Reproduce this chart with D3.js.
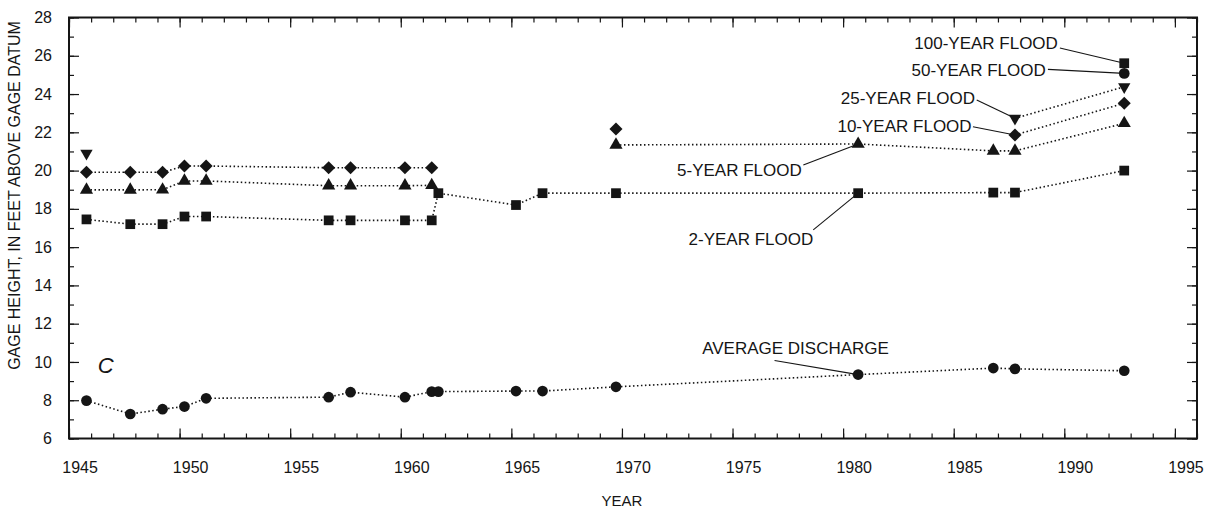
<!DOCTYPE html>
<html><head><meta charset="utf-8">
<script src="https://cdn.jsdelivr.net/npm/d3@7"></script>
<style>
html,body{margin:0;padding:0;background:#fff;}
svg text{font-family:"Liberation Sans",Arial,Helvetica,sans-serif;fill:#151515;}
</style></head><body>
<svg id="chart" width="1212" height="514"></svg>
<script>
// ---------- data ----------
const dischargeYears  = [1945.79,1947.77,1949.23,1950.22,1951.2,1956.74,1957.73,1960.19,1961.4,1961.7,1965.21,1966.41,1969.73,1980.68,1986.79,1987.77,1992.71];
const dischargeValues = [7.98,7.28,7.53,7.67,8.1,8.16,8.42,8.16,8.45,8.45,8.48,8.48,8.7,9.34,9.68,9.64,9.54];

const flood2Years  = [1945.79,1947.77,1949.23,1950.22,1951.2,1956.74,1957.73,1960.19,1961.4,1961.7,1965.21,1966.41,1969.73,1980.68,1986.79,1987.77,1992.71];
const flood2Values = [17.45,17.2,17.2,17.6,17.6,17.4,17.4,17.4,17.4,18.82,18.2,18.82,18.82,18.82,18.85,18.85,20.0];
const flood2Segment = [1,1,1,1,1,1,1,1,1,1,1,1,1,1,1,1,1];

const flood5Years  = [1945.79,1947.77,1949.23,1950.22,1951.2,1956.74,1957.73,1960.19,1961.4,1969.73,1980.68,1986.79,1987.77,1992.71];
const flood5Values = [18.99,18.99,19.0,19.46,19.46,19.21,19.21,19.21,19.23,21.34,21.39,21.03,21.03,22.47];
const flood5Segment = [1,1,1,1,1,1,1,1,1,2,2,2,2,2];

const flood10Years  = [1945.79,1947.77,1949.23,1950.22,1951.2,1956.74,1957.73,1960.19,1961.4,1969.73,1987.77,1992.71];
const flood10Values = [19.91,19.91,19.91,20.24,20.24,20.15,20.15,20.15,20.15,22.17,21.86,23.52];
const flood10Segment = [1,1,1,1,1,1,1,1,1,2,3,3];

const flood25Years  = [1945.79,1987.77,1992.71];
const flood25Values = [20.9,22.73,24.38];
const flood25Segment = [1,2,2];

const flood50Years  = [1992.71];
const flood50Values = [25.08];
const flood100Years  = [1992.71];
const flood100Values = [25.61];

const xTickLabels = [1945,1950,1955,1960,1965,1970,1975,1980,1985,1990,1995];
const yTickLabels = [6,8,10,12,14,16,18,20,22,24,26,28];

// annotation labels: text, label anchor (year,value), leader start, leader end
const annotations = [
  {text:"100-YEAR FLOOD", tx:1989.71, tv:26.65, sx:1989.80, sv:26.41, ex:1992.71, ev:25.61},
  {text:"50-YEAR FLOOD",  tx:1989.16, tv:25.26, sx:1989.26, sv:25.29, ex:1992.71, ev:25.08},
  {text:"25-YEAR FLOOD",  tx:1985.96, tv:23.78, sx:1986.04, sv:23.69, ex:1987.77, ev:22.73},
  {text:"10-YEAR FLOOD",  tx:1985.81, tv:22.33, sx:1985.87, sv:22.29, ex:1987.77, ev:21.86},
  {text:"5-YEAR FLOOD",   tx:1978.13, tv:20.03, sx:1978.20, sv:20.29, ex:1980.68, ev:21.39},
  {text:"2-YEAR FLOOD",   tx:1978.65, tv:16.41, sx:1978.65, sv:16.90, ex:1980.68, ev:18.82},
  {text:"AVERAGE DISCHARGE", tx:1982.07, tv:10.72, sx:1976.9, sv:10.08, ex:1980.68, ev:9.34}
];

// ---------- chart ----------
const svg = d3.select("#chart");
const L = 69, R = 1197, T = 17.5, B = 438.5;
const x = d3.scaleLinear().domain([1945,1996]).range([L,R]);
const y = d3.scaleLinear().domain([6,28]).range([B,T]);
const ink = "#151515";

// ticks
function tickAxis(axis, tx, ty) {
  const g = svg.append("g").attr("transform",`translate(${tx},${ty})`).call(axis);
  g.select(".domain").remove();
  g.selectAll("text").remove();
  g.selectAll("line").attr("stroke",ink).attr("stroke-width",1.2);
  return g;
}
const allYears = d3.range(1945,1997);
const majYears = d3.range(1945,1997,5);
tickAxis(d3.axisBottom(x).tickValues(allYears).tickSize(-5), 0, B);
tickAxis(d3.axisBottom(x).tickValues(majYears).tickSize(-10), 0, B);
tickAxis(d3.axisTop(x).tickValues(allYears).tickSize(-5), 0, T);
tickAxis(d3.axisTop(x).tickValues(majYears).tickSize(-10), 0, T);
const allY = d3.range(6,29,1);
tickAxis(d3.axisLeft(y).tickValues(allY).tickSize(-5), L, 0);
tickAxis(d3.axisLeft(y).tickValues(yTickLabels).tickSize(-10), L, 0);
tickAxis(d3.axisRight(y).tickValues(allY).tickSize(-5), R, 0);
tickAxis(d3.axisRight(y).tickValues(yTickLabels).tickSize(-10), R, 0);

// frame
svg.append("rect").attr("x",L).attr("y",T).attr("width",R-L).attr("height",B-T)
  .attr("fill","none").attr("stroke",ink).attr("stroke-width",2);

// tick labels
svg.append("g").selectAll("text").data(xTickLabels).join("text")
  .attr("x",d=>x(d+0.5)).attr("y",B+34).attr("text-anchor","middle")
  .attr("font-size",16).text(d=>d);
svg.append("g").selectAll("text").data(yTickLabels).join("text")
  .attr("x",L-17).attr("y",d=>y(d)).attr("dy","0.35em").attr("text-anchor","end")
  .attr("font-size",16).text(d=>d);

// axis titles
svg.append("text").attr("x",x(1970.0)).attr("y",506).attr("text-anchor","middle")
  .attr("font-size",15).text("YEAR");
svg.append("text").attr("transform",`translate(20,${y(18.7)}) rotate(-90)`)
  .attr("text-anchor","middle").attr("font-size",16)
  .text("GAGE HEIGHT, IN FEET ABOVE GAGE DATUM");

svg.append("text").attr("x",x(1946.3)).attr("y",y(9.85)).attr("dy","0.35em")
  .attr("font-size",22).attr("font-style","italic").text("C");

// series
function build(years, values, segs) {
  return years.map((yr,i)=>({year:yr, v:values[i], seg: segs ? segs[i] : 1}));
}
const series = [
  {data:build(dischargeYears,dischargeValues), sym:"circle"},
  {data:build(flood2Years,flood2Values,flood2Segment), sym:"square"},
  {data:build(flood5Years,flood5Values,flood5Segment), sym:"triangle"},
  {data:build(flood10Years,flood10Values,flood10Segment), sym:"diamond"},
  {data:build(flood25Years,flood25Values,flood25Segment), sym:"invtriangle"},
  {data:build(flood50Years,flood50Values), sym:"circle"},
  {data:build(flood100Years,flood100Values), sym:"square"}
];

// leaders (under markers)
const ann = svg.append("g");
annotations.forEach(a=>{
  ann.append("line").attr("x1",x(a.sx)).attr("y1",y(a.sv)).attr("x2",x(a.ex)).attr("y2",y(a.ev))
    .attr("stroke",ink).attr("stroke-width",1.1);
  ann.append("text").attr("x",x(a.tx)).attr("y",y(a.tv)).attr("dy","0.35em")
    .attr("text-anchor","end").attr("font-size",17).text(a.text);
});

const line = d3.line().x(d=>x(d.year)).y(d=>y(d.v));
series.forEach(s=>{
  const groups = d3.groups(s.data, d=>d.seg);
  groups.forEach(([k,pts])=>{
    if (pts.length>1) svg.append("path").attr("d",line(pts)).attr("fill","none")
      .attr("stroke",ink).attr("stroke-width",1.6).attr("stroke-dasharray","1.5,2.5");
  });
});

const symGen = {
  circle: d3.symbol().type(d3.symbolCircle).size(90),
  square: d3.symbol().type(d3.symbolSquare).size(95),
  triangle: d3.symbol().type(d3.symbolTriangle).size(75),
  invtriangle: d3.symbol().type(d3.symbolTriangle).size(66),
  diamond: d3.symbol().type(d3.symbolSquare).size(85)
};
const rot = {circle:0,square:0,triangle:0,invtriangle:180,diamond:45};
series.forEach(s=>{
  svg.append("g").selectAll("path").data(s.data).join("path")
    .attr("d",symGen[s.sym]())
    .attr("transform",d=>`translate(${x(d.year)},${y(d.v)}) rotate(${rot[s.sym]})`)
    .attr("fill",ink);
});
</script>
</body></html>
